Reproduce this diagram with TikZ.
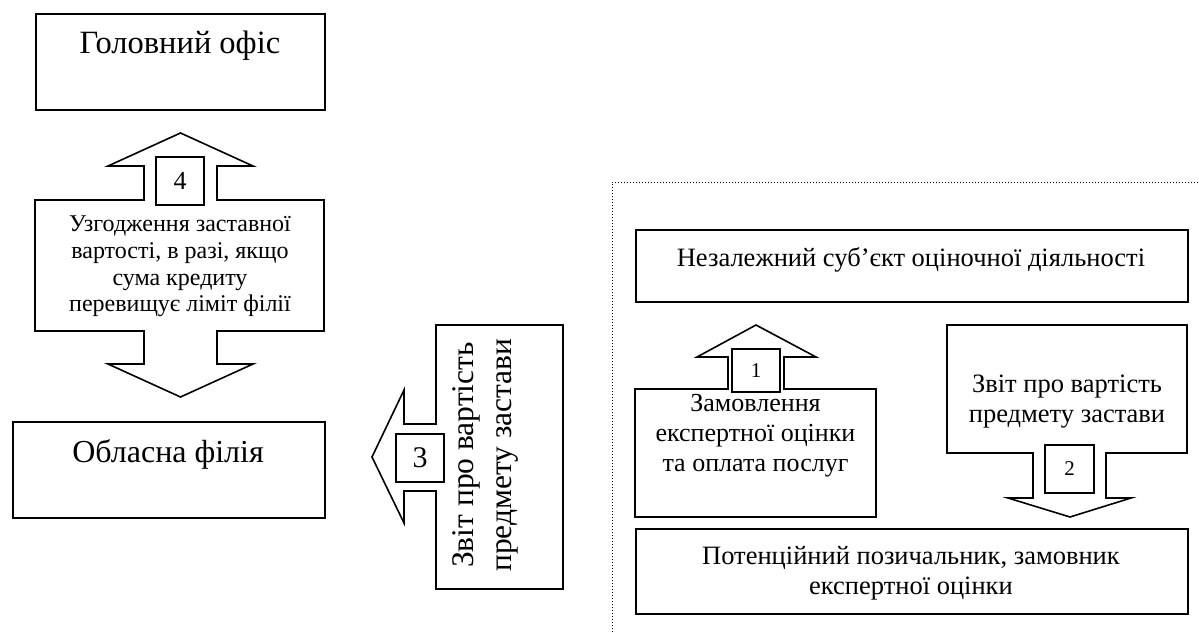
\documentclass[tikz,border=0pt]{standalone}
\usepackage{fontspec}
\setmainfont{Liberation Serif}
\newcommand\fsz[2]{\fontsize{#1}{#2}\selectfont}
\begin{document}
\begin{tikzpicture}[x=1pt,y=-1pt,line join=miter,
  shp/.style={draw=black,line width=1.6pt,fill=white},
  boxnode/.style={draw=black,line width=1.6pt,fill=white,inner sep=0pt,anchor=north west},
  numbox/.style={draw=black,line width=1.6pt,fill=white,inner sep=0pt},
  lbl/.style={inner sep=0pt,align=center},
  frame/.style={draw=black,line width=1pt,dash pattern=on 1pt off 2pt}]
\useasboundingbox (0,0) rectangle (1199,632);

% dotted frame
\coordinate (fb) at (612,632);
\coordinate (fc) at (612,182);
\coordinate (fr) at (1199,182);
\draw[frame] (fb) -- (fc) -- (fr);

% plain boxes
\node[boxnode,minimum width=289pt,minimum height=96pt] (ho) at (35,13) {};
\node[boxnode,minimum width=312pt,minimum height=96pt] (ob) at (12,421) {};
\node[boxnode,minimum width=552pt,minimum height=72pt] (nz) at (635,229) {};
\node[boxnode,minimum width=552pt,minimum height=85pt] (pt) at (635,528) {};

% callout 4 (double arrow)
\draw[shp] (35,200) -- (144,200) -- (144,166) -- (108,166) -- (180.5,133) -- (253,166) -- (217,166) -- (217,200)
  -- (324,200) -- (324,331) -- (217,331) -- (217,364) -- (253,364) -- (180.5,397) -- (108,364) -- (144,364)
  -- (144,331) -- (35,331) -- cycle;
% callout 3 (left arrow)
\draw[shp] (436,325) -- (563,325) -- (563,589) -- (436,589) -- (436,491) -- (404,491) -- (404,523)
  -- (372,457) -- (404,390) -- (404,424) -- (436,424) -- cycle;
% callout 1 (up arrow)
\draw[shp] (635,389) -- (728,389) -- (728,357) -- (697,357) -- (756,325) -- (816,357) -- (784,357)
  -- (784,389) -- (876,389) -- (876,517) -- (635,517) -- cycle;
% callout 2 (down arrow)
\draw[shp] (947,325) -- (1187,325) -- (1187,453) -- (1106,453) -- (1106,498) -- (1131,498) -- (1070,517)
  -- (1008,498) -- (1033,498) -- (1033,453) -- (947,453) -- cycle;

% number boxes
\node[numbox,minimum width=48pt,minimum height=48pt,font=\fsz{26}{30}] (n4) at (180,181) {4};
\node[numbox,minimum width=48pt,minimum height=48pt,font=\fsz{30}{34}] (n3) at (420,458) {3};
\node[numbox,minimum width=48pt,minimum height=43pt,font=\fsz{21}{24}] (n1) at (756,370.5) {1};
\node[numbox,minimum width=49pt,minimum height=48pt,font=\fsz{21}{24}] (n2) at (1069.5,469) {2};

% texts
\node[lbl,anchor=base,font=\fsz{32.5}{36}] (tho) at (180,53) {Головний офіс};
\node[lbl,anchor=base,font=\fsz{32}{36}] (tob) at (168,462) {Обласна філія};
\node[lbl,anchor=base,font=\fsz{26.5}{30}] (tnz) at (911,266) {Незалежний суб’єкт оціночної діяльності};
\node[lbl,font=\fsz{24}{26.7}] (t4) at (180,266.5) {Узгодження заставної\\вартості, в разі, якщо\\сума кредиту\\перевищує ліміт філії};
\node[lbl,font=\fsz{26}{30}] (t1) at (755.5,435.5) {Замовлення\\експертної оцінки\\та оплата послуг};
\node[lbl,font=\fsz{26.5}{30}] (t2) at (1067,401.5) {Звіт про вартість\\предмету застави};
\node[lbl,font=\fsz{26.5}{30}] (tp) at (911,573) {Потенційний позичальник, замовник\\експертної оцінки};
\node[lbl,rotate=90,font=\fsz{31.5}{38}] (t3) at (485.5,455) {Звіт про вартість\\предмету застави};
\end{tikzpicture}
\end{document}
